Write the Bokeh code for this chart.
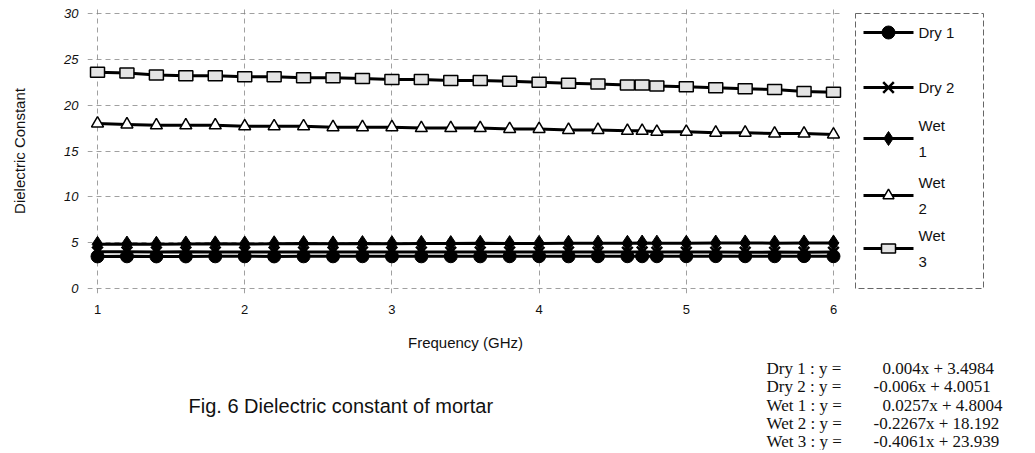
from bokeh.plotting import figure
from bokeh.models import Range1d, FixedTicker, ColumnDataSource
from bokeh.layouts import column, row
from bokeh.embed import file_html
from bokeh.resources import INLINE
from bokeh.core.properties import value

# ---------------- data ----------------
freq = [1.0, 1.2, 1.4, 1.6, 1.8, 2.0, 2.2, 2.4, 2.6, 2.8, 3.0, 3.2, 3.4, 3.6,
        3.8, 4.0, 4.2, 4.4, 4.6, 4.7, 4.8, 5.0, 5.2, 5.4, 5.6, 5.8, 6.0]
dry1 = [3.50, 3.51, 3.50, 3.50, 3.51, 3.51, 3.50, 3.51, 3.51, 3.52, 3.51, 3.51, 3.52, 3.51,
        3.52, 3.52, 3.51, 3.52, 3.52, 3.52, 3.52, 3.52, 3.53, 3.52, 3.52, 3.53, 3.52]
dry2 = [4.00, 4.00, 3.99, 4.00, 3.99, 3.99, 3.98, 3.99, 3.98, 3.99, 3.98, 3.98, 3.97, 3.98,
        3.98, 3.97, 3.98, 3.97, 3.97, 3.98, 3.97, 3.97, 3.97, 3.96, 3.97, 3.96, 3.97]
wet1 = [4.82, 4.85, 4.83, 4.86, 4.87, 4.85, 4.88, 4.90, 4.87, 4.90, 4.89, 4.92, 4.90, 4.93,
        4.90, 4.92, 4.94, 4.95, 4.93, 4.96, 4.95, 4.94, 4.96, 4.97, 4.95, 4.97, 4.96]
wet2 = [18.0, 17.9, 17.8, 17.8, 17.8, 17.7, 17.7, 17.7, 17.6, 17.6, 17.6, 17.5, 17.5, 17.5,
        17.4, 17.4, 17.3, 17.3, 17.2, 17.2, 17.1, 17.1, 17.0, 17.0, 16.9, 16.9, 16.8]
wet3 = [23.6, 23.5, 23.3, 23.2, 23.2, 23.1, 23.1, 23.0, 23.0, 22.9, 22.8, 22.8, 22.7, 22.7,
        22.6, 22.5, 22.4, 22.3, 22.2, 22.2, 22.1, 22.0, 21.9, 21.8, 21.7, 21.5, 21.4]

series_names = ["Dry 1", "Dry 2", "Wet\n1", "Wet\n2", "Wet\n3"]
x_ticks = [1, 2, 3, 4, 5, 6]
y_ticks = [0, 5, 10, 15, 20, 25, 30]
eq_names = ["Dry 1 : y =", "Dry 2 : y =", "Wet 1 : y =", "Wet 2 : y =", "Wet 3 : y ="]
eq_terms = ["0.004x + 3.4984", "-0.006x + 4.0051", "0.0257x + 4.8004",
            "-0.2267x + 18.192", "-0.4061x + 23.939"]
caption = "Fig. 6 Dielectric constant of mortar"

SANS = value("Liberation Sans")
SERIF = value("Liberation Serif")

TOP_H = 356
BORDER_TOP = 8
BORDER_BOTTOM = TOP_H - 293

# ---------------- main plot ----------------
p = figure(width=853, height=TOP_H, output_backend="svg", toolbar_location=None,
           x_range=Range1d(0.932, 6.068), y_range=Range1d(-0.545, 30.545),
           min_border_left=87, min_border_right=10, min_border_top=BORDER_TOP,
           min_border_bottom=BORDER_BOTTOM)
p.outline_line_color = None
p.background_fill_color = "white"
p.border_fill_color = "white"

p.xaxis.ticker = FixedTicker(ticks=x_ticks)
p.yaxis.ticker = FixedTicker(ticks=y_ticks)
for ax in (p.xaxis, p.yaxis):
    ax.axis_line_color = None
    ax.major_tick_line_color = None
    ax.minor_tick_line_color = None
    ax.major_tick_out = 0
    ax.major_tick_in = 0
    ax.major_label_text_font = "Liberation Sans"
    ax.major_label_text_color = "#111111"
    ax.axis_label_text_font = "Liberation Sans"
    ax.axis_label_text_font_style = "normal"
    ax.axis_label_text_color = "#111111"

p.xaxis.major_label_text_font_size = "13px"
p.xaxis.major_label_standoff = 11
p.xaxis.axis_label = "Frequency (GHz)"
p.xaxis.axis_label_text_font_size = "15px"
p.xaxis.axis_label_standoff = 17

p.yaxis.major_label_text_font_size = "13px"
p.yaxis.major_label_text_font_style = "italic"
p.yaxis.major_label_standoff = 9
p.yaxis.axis_label = "Dielectric Constant"
p.yaxis.axis_label_text_font_size = "15px"
p.yaxis.axis_label_standoff = 33

p.xgrid.ticker = FixedTicker(ticks=x_ticks)
p.ygrid.ticker = FixedTicker(ticks=y_ticks)
for g in (p.xgrid, p.ygrid):
    g.grid_line_color = "#808080"
    g.grid_line_dash = "5 4"
    g.grid_line_width = 1
    g.grid_line_alpha = 0.75

src = ColumnDataSource(dict(x=freq, d1=dry1, d2=dry2, w1=wet1, w2=wet2, w3=wet3))

LW = 3
p.line("x", "w1", source=src, line_color="black", line_width=LW)
p.scatter("x", "w1", source=src, marker="diamond", size=16, fill_color="black", line_color="black")
p.line("x", "d2", source=src, line_color="black", line_width=LW)
p.scatter("x", "d2", source=src, marker="x", size=15, line_color="black", line_width=2.5)
p.line("x", "d1", source=src, line_color="black", line_width=LW)
p.scatter("x", "d1", source=src, marker="circle", size=13, fill_color="black", line_color="black")
p.line("x", "w2", source=src, line_color="black", line_width=LW)
p.scatter("x", "w2", source=src, marker="triangle", size=12, fill_color="white",
          line_color="black", line_width=1.5)
p.line("x", "w3", source=src, line_color="black", line_width=LW)
p.rect("x", "w3", source=src, width=14, height=10, width_units="screen", height_units="screen",
       fill_color="#e4e4e4", line_color="black", line_width=1.5)

# ---------------- legend panel (pixel-like coordinates) ----------------
leg = figure(width=177, height=TOP_H, output_backend="svg", toolbar_location=None,
             x_axis_type=None, y_axis_type=None,
             x_range=Range1d(853, 1030), y_range=Range1d(293, 8),
             min_border_left=0, min_border_right=0, min_border_top=BORDER_TOP,
             min_border_bottom=BORDER_BOTTOM)
leg.grid.visible = False
leg.outline_line_color = None
leg.quad(left=[855], right=[983], top=[13], bottom=[288], fill_color=None,
         line_color="#666666", line_dash="6 3", line_width=1)

leg_y = [32, 87, 138, 195, 248]
for yy in leg_y:
    leg.line([863, 913], [yy, yy], line_color="black", line_width=LW)
ls = ColumnDataSource(dict(y=leg_y, t=series_names, tx=[918] * 5))
leg.scatter(x=888, y=leg_y[0], marker="circle", size=13, fill_color="black", line_color="black")
leg.scatter(x=888, y=leg_y[1], marker="x", size=15, line_color="black", line_width=2.5)
leg.scatter(x=888, y=leg_y[2], marker="diamond", size=14, fill_color="black", line_color="black")
leg.scatter(x=888, y=leg_y[3], marker="triangle", size=11, fill_color="white", line_color="black", line_width=1.5)
leg.rect(x=888, y=leg_y[4], width=14, height=9, width_units="screen", height_units="screen",
         fill_color="#e4e4e4", line_color="black", line_width=1.5)
leg.text(x="tx", y="y", text="t", source=ls, text_font=SANS, text_font_size="15px",
         text_baseline="middle", text_align="left", text_color="#111111", text_line_height=1.5)

# ---------------- bottom texts ----------------
BOT_H = 94
bot = figure(width=1030, height=BOT_H, output_backend="svg", toolbar_location=None,
             x_axis_type=None, y_axis_type=None,
             x_range=Range1d(0, 1030), y_range=Range1d(TOP_H + BOT_H, TOP_H),
             min_border_left=0, min_border_right=0, min_border_top=0, min_border_bottom=0)
bot.grid.visible = False
bot.outline_line_color = None

bot.text(x=[188], y=[405], text=[caption], text_font=SANS, text_font_size="20px",
         text_baseline="middle", text_align="left", text_color="#111111")

eq_y = [368, 386, 405, 423, 441]
eq_x = [882 if not t.startswith("-") else 873 for t in eq_terms]
es = ColumnDataSource(dict(y=eq_y, n=eq_names, t=eq_terms, nx=[766] * 5, tx=eq_x))
bot.text(x="nx", y="y", text="n", source=es, text_font=SERIF, text_font_size="17px",
         text_baseline="middle", text_align="left", text_color="#111111")
bot.text(x="tx", y="y", text="t", source=es, text_font=SERIF, text_font_size="17px",
         text_baseline="middle", text_align="left", text_color="#111111")

layout = column(row(p, leg), bot)
open("out.html", "w").write(file_html(layout, INLINE))
